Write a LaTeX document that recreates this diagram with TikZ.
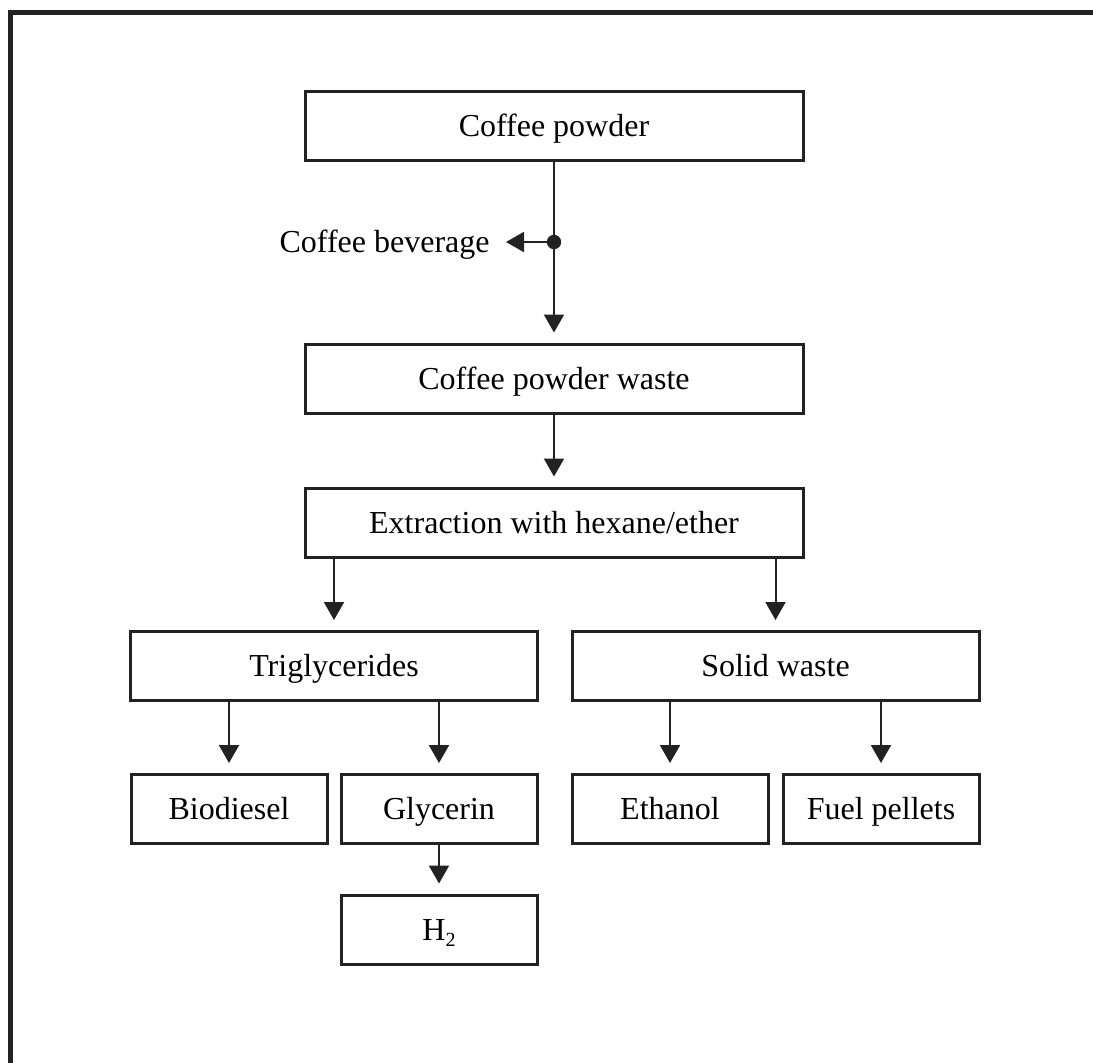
\documentclass[tikz,border=0pt]{standalone}
\usepackage{fontspec}
\setmainfont{Liberation Serif}
\usetikzlibrary{arrows.meta}
\definecolor{ink}{RGB}{34,34,34}
\begin{document}
\begin{tikzpicture}[x=0.5pt,y=-0.5pt,
  box/.style={draw=ink,line width=1.5pt,minimum height=34.5pt,inner sep=0pt,
    text height=12pt,text depth=1.5pt,
    font=\fontsize{16}{19}\selectfont,text=black},
  wide/.style={box,minimum width=249pt},
  mid/.style={box,minimum width=203.5pt},
  small/.style={box,minimum width=98pt},
  conn/.style={draw=ink,line width=1pt},
  arr/.style={conn,-{Triangle[length=9pt,width=10pt]},shorten >=5pt}]
\useasboundingbox (0,0) rectangle (1093,1062);
\draw[line width=2.5pt,ink] (10,1070) -- (10,12) -- (1100,12);

\node[wide] (cp)  at (554,125.5) {Coffee powder};
\node[wide] (cpw) at (554,378.5) {Coffee powder waste};
\node[wide] (ext) at (554,522.5) {Extraction with hexane/ether};
\node[mid]  (trig) at (334,666) {Triglycerides};
\node[mid]  (sol)  at (775.5,666) {Solid waste};
\node[small] (bio)  at (229,809) {Biodiesel};
\node[small] (gly)  at (439,809) {Glycerin};
\node[small] (eth)  at (670,809) {Ethanol};
\node[small] (fuel) at (881,809) {Fuel pellets};
\node[small] (h2)   at (439,929.5) {H\raisebox{-3pt}{\fontsize{10}{12}\selectfont 2}};
\node[anchor=east,inner sep=0pt,text height=12pt,text depth=1.5pt,font=\fontsize{16}{19}\selectfont] (bev) at (490,242) {Coffee beverage};
\coordinate (J) at (554,242);

\draw[conn] (cp) -- (J);
\draw[arr] (J) -- (cpw);
\draw[arr,shorten >=8pt] (J) -- (bev.east);
\fill[ink] (J) circle (3.6pt);
\draw[arr] (cpw) -- (ext);
\draw[arr] (trig.north |- ext.south) -- (trig.north);
\draw[arr] (sol.north |- ext.south) -- (sol.north);
\draw[arr] (bio.north |- trig.south) -- (bio.north);
\draw[arr] (gly.north |- trig.south) -- (gly.north);
\draw[arr] (eth.north |- sol.south) -- (eth.north);
\draw[arr] (fuel.north |- sol.south) -- (fuel.north);
\draw[arr] (gly) -- (h2);
\end{tikzpicture}
\end{document}
